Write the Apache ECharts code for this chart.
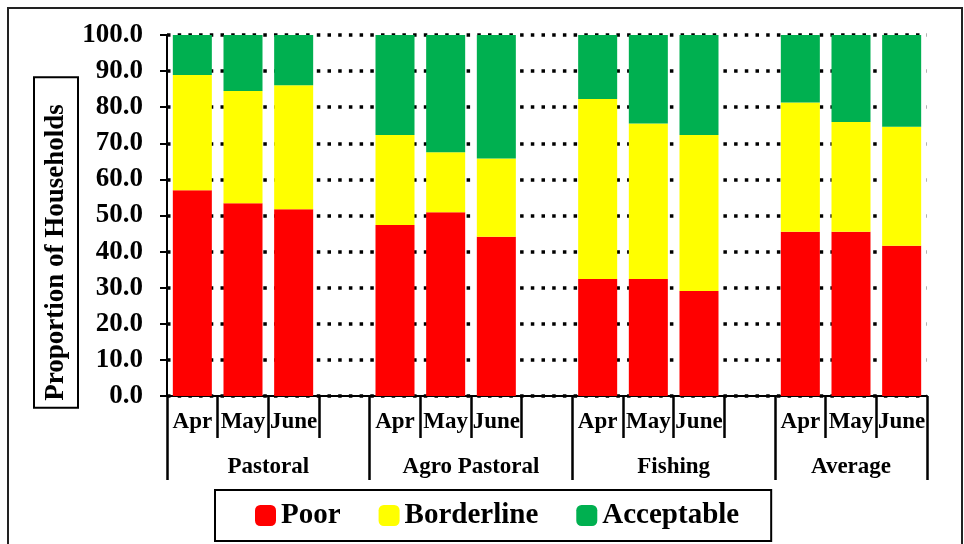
<!DOCTYPE html>
<html>
<head>
<meta charset="utf-8">
<script src="https://cdn.jsdelivr.net/npm/echarts@6/dist/echarts.min.js"></script>
<style>
  html, body { margin: 0; padding: 0; background: #fff; }
  #chart { width: 964px; height: 544px; }
</style>
</head>
<body>
<div id="chart"></div>
<script>
// Month slots; an empty slot separates each livelihood zone
const months = ['Apr', 'May', 'June', '', 'Apr', 'May', 'June', '', 'Apr', 'May', 'June', '', 'Apr', 'May', 'June'];
const zones = ['Pastoral', 'Agro Pastoral', 'Fishing', 'Average'];
// Zone boundaries and label centres, in slot units along the month axis
const zoneEdges = [0, 4, 8, 12, 15];
const zoneCentres = [2, 6, 10, 13.5];

// Food consumption groups (% of households)
const poor       = [57.0, 53.4, 51.7, null, 47.4, 50.9, 44.1, null, 32.4, 32.4, 29.1, null, 45.5, 45.5, 41.6];
const borderline = [31.9, 31.1, 34.4, null, 24.9, 16.6, 21.7, null, 49.9, 43.1, 43.2, null, 35.8, 30.4, 33.0];
const acceptable = [11.1, 15.5, 13.9, null, 27.7, 32.5, 34.2, null, 17.7, 24.5, 27.7, null, 18.7, 24.1, 25.4];

const yTicks = { min: 0, max: 100, step: 10 };

const FONT = "'Times New Roman', 'Liberation Serif', serif";

const chart = echarts.init(document.getElementById('chart'), null, { renderer: 'canvas' });

function barSeries(name, data, color) {
  return {
    name: name,
    type: 'bar',
    stack: 'fcs',
    data: data,
    barWidth: '77%',
    itemStyle: { color: color },
    xAxisIndex: 0,
    yAxisIndex: 0
  };
}

chart.setOption({
  animation: false,
  backgroundColor: '#fff',
  grid: { left: 167, right: 37, top: 35, bottom: 148, containLabel: false },
  legend: {
    data: ['Poor', 'Borderline', 'Acceptable'],
    left: 215,
    top: 490,
    padding: [11, 32, 11, 40],
    borderColor: '#000',
    borderWidth: 2,
    itemGap: 38,
    itemWidth: 21,
    itemHeight: 21,
    icon: 'roundRect',
    textStyle: { fontFamily: FONT, fontWeight: 'bold', fontSize: 29, color: '#000' }
  },
  xAxis: [
    {
      type: 'category',
      data: months,
      position: 'bottom',
      axisLine: { show: true, lineStyle: { color: '#000', width: 2 } },
      axisTick: { show: true, interval: 0, length: 42, lineStyle: { color: '#000', width: 2.5 } },
      axisLabel: {
        interval: 0, margin: 15, color: '#000',
        fontFamily: FONT, fontWeight: 'bold', fontSize: 23
      },
      splitLine: { show: false }
    },
    {
      type: 'value',
      min: 0,
      max: zoneEdges[zoneEdges.length - 1],
      position: 'bottom',
      axisLine: { show: false },
      axisTick: { show: true, customValues: zoneEdges, length: 84, lineStyle: { color: '#000', width: 2.5 } },
      axisLabel: {
        customValues: zoneCentres,
        margin: 60,
        color: '#000',
        fontFamily: FONT, fontWeight: 'bold', fontSize: 23,
        formatter: function (v) {
          const i = zoneCentres.indexOf(v);
          return i >= 0 ? zones[i] : '';
        }
      },
      splitLine: { show: false }
    }
  ],
  yAxis: {
    type: 'value',
    min: yTicks.min,
    max: yTicks.max,
    interval: yTicks.step,
    axisLine: { show: true, lineStyle: { color: '#000', width: 2 } },
    axisTick: { show: true, length: 7, lineStyle: { color: '#000', width: 2 } },
    axisLabel: {
      margin: 24, color: '#000',
      fontFamily: FONT, fontWeight: 'bold', fontSize: 27,
      formatter: function (v) { return v.toFixed(1); }
    },
    splitLine: { show: true, lineStyle: { color: '#000', width: 3.5, type: [3.5, 7.2] } }
  },
  graphic: [
    {
      type: 'rect',
      z: -10,
      shape: { x: 8, y: 8, width: 954, height: 600 },
      style: { fill: 'none', stroke: '#222', lineWidth: 2 }
    },
    {
      type: 'text',
      x: 56,
      y: 242.5,
      rotation: Math.PI / 2,
      style: {
        text: 'Proportion of Households',
        font: 'bold 27px ' + FONT,
        fill: '#000',
        align: 'center',
        verticalAlign: 'middle',
        lineHeight: 28,
        padding: [7, 26, 7, 6],
        borderColor: '#000',
        borderWidth: 2,
        backgroundColor: '#fff'
      }
    }
  ],
  series: [
    barSeries('Poor', poor, '#FF0000'),
    barSeries('Borderline', borderline, '#FFFF00'),
    barSeries('Acceptable', acceptable, '#00B050')
  ]
});
</script>
</body>
</html>
